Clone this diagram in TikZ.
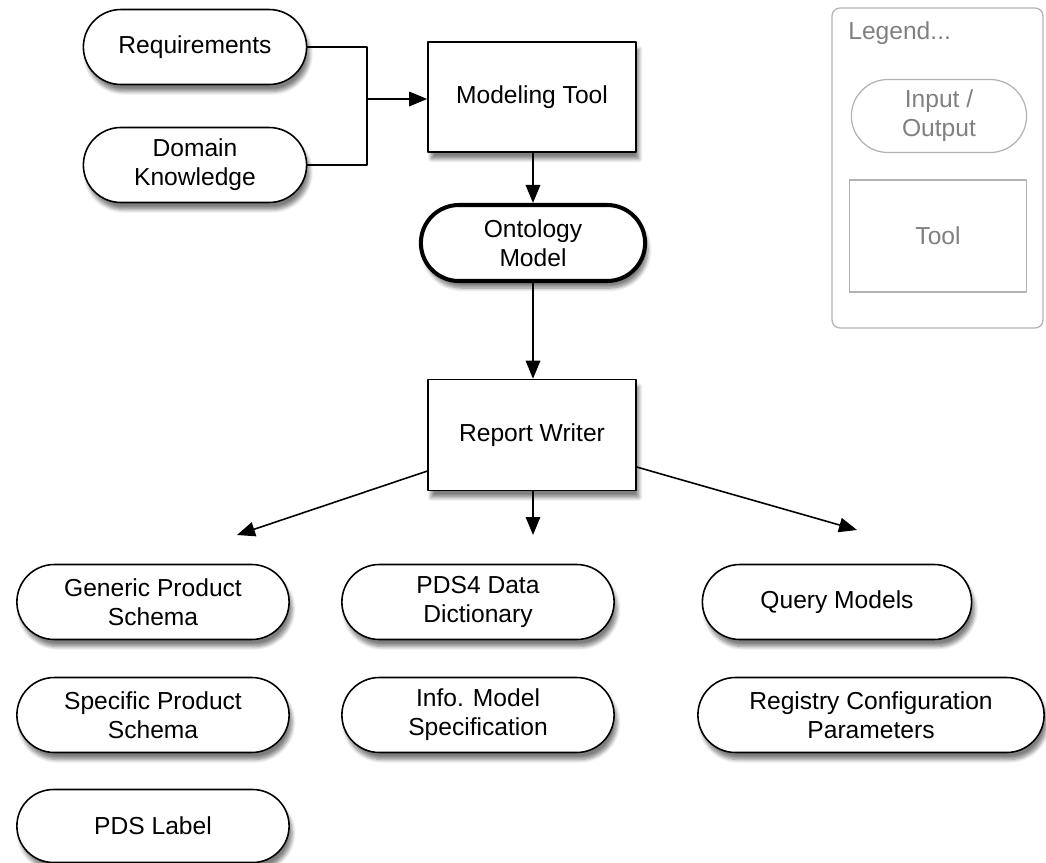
\documentclass[tikz,border=0pt]{standalone}
\usepackage{fontspec}
\setmainfont{Liberation Sans}
\usetikzlibrary{arrows.meta,shapes.misc,shadows.blur}
\tikzset{
  box/.style={draw,fill=white,line width=0.9pt,align=center,
    font=\fontsize{14}{16.5}\selectfont},
  shd/.style={blur shadow={shadow xshift=0.06cm,shadow yshift=-0.14cm,
    shadow blur steps=6,shadow opacity=50}},
  io/.style={box,shd,rounded rectangle,minimum width=5.68cm,minimum height=1.5cm},
  tool/.style={box,shd,rectangle},
  arr/.style={-{Triangle[length=0.36cm,width=0.29cm]},line width=0.9pt},
  leg/.style={text=black!50,align=center,font=\fontsize{14}{16.5}\selectfont}
}
\begin{document}
\begin{tikzpicture}[x=0.02cm,y=-0.02cm,line join=round]
\useasboundingbox (0,0) rectangle (1046,863);
% inputs and modeling tool
\node[io,minimum width=4.7cm] (req) at (195,47) {Requirements};
\node[io,minimum width=4.7cm] (dom) at (195,165) {Domain\\Knowledge};
\node[tool,minimum width=4.16cm,minimum height=2.2cm] (mt) at (532,97) {Modeling Tool};
\coordinate (jn) at (367,99);
\draw[line width=0.9pt] (req.east) -- (req.east -| jn) -- (dom.east -| jn) -- (dom.east);
\draw[arr] (jn) -- (jn -| mt.west);
% ontology and report writer
\node[io,line width=2.3pt,minimum width=4.72cm,minimum height=1.52cm] (om) at (533,243) {Ontology\\Model};
\node[tool,minimum width=4.16cm,minimum height=2.22cm] (rw) at (532,435) {Report Writer};
\draw[arr] (mt.south -| om) -- (om.north);
\draw[arr] (om.south) -- (om.south |- rw.north);
\coordinate (tl) at (237,535);
\coordinate (tm) at (533,535);
\coordinate (tr) at (857,530);
\draw[arr] (rw.199) -- (tl);
\draw[arr] (rw.south -| tm) -- (tm);
\draw[arr] (rw.343) -- (tr);
% products
\node[io] (gps) at (153,602) {Generic Product\\Schema};
\node[io] (sps) at (153,715) {Specific Product\\Schema};
\node[io,minimum height=1.46cm] (lbl) at (153,826) {PDS Label};
\node[io] (dd) at (478,602) {PDS4 Data\\Dictionary};
\node[io] (ims) at (478,715) {Info. Model\\Specification};
\node[io,minimum width=5.62cm] (qm) at (837,602) {Query Models};
\node[io,minimum width=7.16cm] (reg) at (871,715) {Registry Configuration\\Parameters};
% legend
\draw[draw=black!30,line width=0.7pt,rounded corners=0.16cm] (832,8) rectangle (1043,328);
\node[leg,anchor=west,inner sep=0pt] (lgt) at (848,33) {Legend...};
\node[leg,draw=black!30,line width=0.7pt,rounded rectangle,minimum width=3.74cm,minimum height=1.46cm] (lio) at (939,116) {Input /\\Output};
\node[leg,draw=black!30,line width=0.7pt,rectangle,minimum width=3.54cm,minimum height=2.24cm] (ltl) at (938,236) {Tool};
\end{tikzpicture}
\end{document}
